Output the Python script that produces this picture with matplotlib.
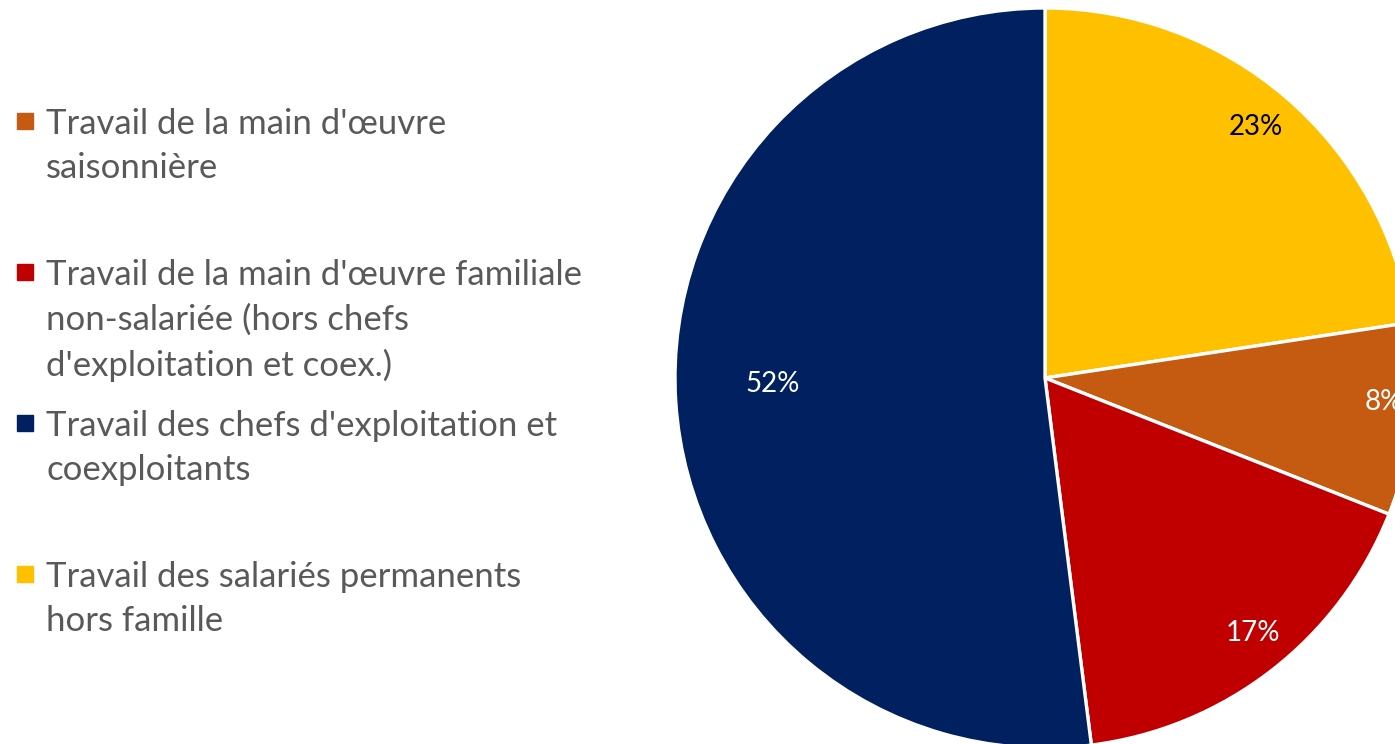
import numpy as np
import matplotlib.pyplot as plt

# données (parts du travail, en %)
categories = [
    "Travail des salariés permanents\nhors famille",
    "Travail de la main d'œuvre\nsaisonnière",
    "Travail de la main d'œuvre familiale\nnon-salariée (hors chefs\nd'exploitation et coex.)",
    "Travail des chefs d'exploitation et\ncoexploitants",
]
values = [22.6, 8.4, 17.0, 52.0]
colors = ["#FFC000", "#C55A11", "#C00000", "#002060"]
label_colors = ["black", "white", "white", "white"]
legend_order = [1, 2, 3, 0]

W, H = 1395, 744
fig = plt.figure(figsize=(W / 100, H / 100), dpi=100)
plt.rcParams['font.family'] = ['Lato', 'DejaVu Sans']

cx, cy, r = 1045, 378, 370
ax = fig.add_axes([(cx - r) / W, (H - cy - r) / H, 2 * r / W, 2 * r / H])
wedges, texts, autotexts = ax.pie(
    values, colors=colors, startangle=90, counterclock=False,
    autopct='%.0f%%', pctdistance=0.88,
    wedgeprops=dict(edgecolor='white', linewidth=2.4),
    textprops=dict(fontsize=20),
)
ax.set_xlim(-1, 1)
ax.set_ylim(-1, 1)
ax.set_aspect('equal')

# placement des étiquettes façon Excel (rayon relatif, décalage angulaire)
label_r = [0.885, 0.918, 0.889, 0.735]
label_dtheta = [0.7, 2.4, 1.4, -2.4]
for w, t, c, rr, dt in zip(wedges, autotexts, label_colors, label_r, label_dtheta):
    th = np.deg2rad((w.theta1 + w.theta2) / 2 + dt)
    t.set_position((rr * np.cos(th), rr * np.sin(th)))
    t.set_color(c)

# légende à gauche
slot_top = 108
slot_h = 151
sq = 16
for k, i in enumerate(legend_order):
    y_top = slot_top + k * slot_h
    yc = y_top + 12.5
    fig.patches.append(plt.Rectangle((17 / W, 1 - (yc + sq / 2) / H), sq / W, sq / H,
                                     transform=fig.transFigure, color=colors[i]))
    fig.text(46 / W, 1 - y_top / H, categories[i], fontsize=25, color='#595959',
             va='top', ha='left', linespacing=1.47)

fig.savefig('out.png', dpi=100)
